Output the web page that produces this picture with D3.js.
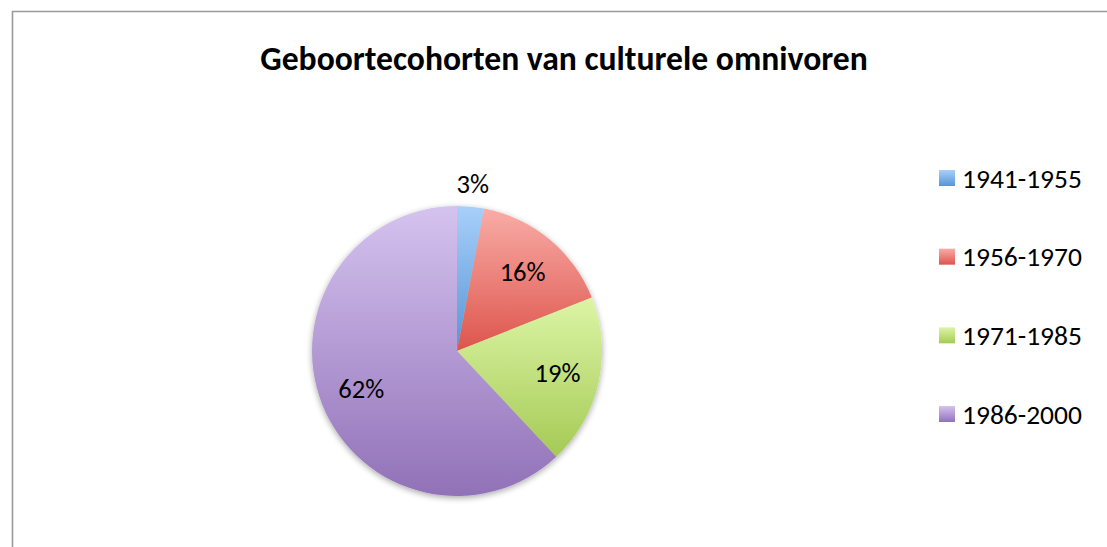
<!DOCTYPE html>
<html><head><meta charset="utf-8">
<script src="https://cdn.jsdelivr.net/npm/d3@7"></script>
<style>
html,body{margin:0;padding:0;background:#fff;}
svg{display:block;font-family:Carlito, Lato, "Open Sans", sans-serif;}
</style></head>
<body>
<svg id="chart" width="1107" height="547"></svg>
<script>
const title = "Geboortecohorten van culturele omnivoren";
const categories = ["1941-1955", "1956-1970", "1971-1985", "1986-2000"];
const values = [3, 16, 19, 62];
const labels = ["3%", "16%", "19%", "62%"];
const colorTop = ["#a9cff9", "#f9aca7", "#dcf5a6", "#d5c3ef"];
const colorBottom = ["#5596d6", "#dd554c", "#a5ca55", "#9171b8"];

const svg = d3.select("#chart");
const W = 1107, H = 547;
svg.append("rect").attr("x",0).attr("y",0).attr("width",W).attr("height",H).attr("fill","#fff");

// frame
svg.append("path").attr("d", `M12.5,${H} L12.5,11.5 L${W},11.5`)
  .attr("fill","none").attr("stroke","#9a9a9a").attr("stroke-width",1.6);

const defs = svg.append("defs");
categories.forEach((c,i)=>{
  const g = defs.append("linearGradient").attr("id","g"+i)
    .attr("x1",0).attr("y1",0).attr("x2",0).attr("y2",1);
  g.append("stop").attr("offset","0%").attr("stop-color",colorTop[i]);
  g.append("stop").attr("offset","100%").attr("stop-color",colorBottom[i]);
  const lg = defs.append("linearGradient").attr("id","lg"+i)
    .attr("x1",0).attr("y1",0).attr("x2",0).attr("y2",1);
  lg.append("stop").attr("offset","0%").attr("stop-color",colorTop[i]);
  lg.append("stop").attr("offset","100%").attr("stop-color",colorBottom[i]);
});
const f = defs.append("filter").attr("id","sh").attr("x","-20%").attr("y","-20%").attr("width","140%").attr("height","140%");
f.append("feGaussianBlur").attr("in","SourceAlpha").attr("stdDeviation",3).attr("result","b");
f.append("feOffset").attr("in","b").attr("dx",0).attr("dy",2).attr("result","o");
f.append("feComponentTransfer").attr("in","o").attr("result","o2")
  .append("feFuncA").attr("type","linear").attr("slope",0.35);
const fm = f.append("feMerge");
fm.append("feMergeNode").attr("in","o2");
fm.append("feMergeNode").attr("in","SourceGraphic");

// title
const t = svg.append("text").attr("x",564).attr("y",70).attr("text-anchor","middle")
  .attr("font-weight","bold").attr("font-size",24).attr("fill","#000").text(title);
let tw = t.node().getComputedTextLength();
t.attr("font-size", 24*608/tw);

const cx = 457, cy = 351, r = 145;
const pie = d3.pie().sort(null).value(d=>d);
const arcs = pie(values);
const arc = d3.arc().innerRadius(0).outerRadius(r);
const g = svg.append("g").attr("transform",`translate(${cx},${cy})`);
g.append("g").attr("filter","url(#sh)").selectAll("path").data(arcs).enter().append("path")
  .attr("d",arc).attr("fill",(d,i)=>`url(#g${i})`);

const inner = d3.arc().innerRadius(r*0.71).outerRadius(r*0.71);
const outer = d3.arc().innerRadius(r*1.16).outerRadius(r*1.16);
const lbls = g.selectAll("text.lbl").data(arcs).enter().append("text").attr("class","lbl")
  .attr("transform",(d,i)=>{
    const p = (d.endAngle-d.startAngle) < 0.3 ? outer.centroid(d) : inner.centroid(d);
    return `translate(${p[0]},${p[1]})`;
  })
  .attr("text-anchor","middle").attr("dominant-baseline","central")
  .attr("font-size",21).attr("fill","#000").text((d,i)=>labels[i]);
const w16 = lbls.filter((d,i)=>i===1).node().getComputedTextLength();
lbls.attr("font-size", 21*46/w16);

// legend
const ly = d3.scalePoint().domain(categories).range([178,414]);
const lgd = svg.append("g");
categories.forEach((c,i)=>{
  lgd.append("rect").attr("x",939).attr("y",ly(c)-8).attr("width",16).attr("height",16)
    .attr("fill",`url(#lg${i})`);
  const tx = lgd.append("text").attr("x",962).attr("y",ly(c)).attr("dominant-baseline","central")
    .attr("font-size",21).attr("fill","#000").text(c);
  const w = tx.node().getComputedTextLength();
  tx.attr("font-size", 21*120/w);
});
</script>
</body></html>
